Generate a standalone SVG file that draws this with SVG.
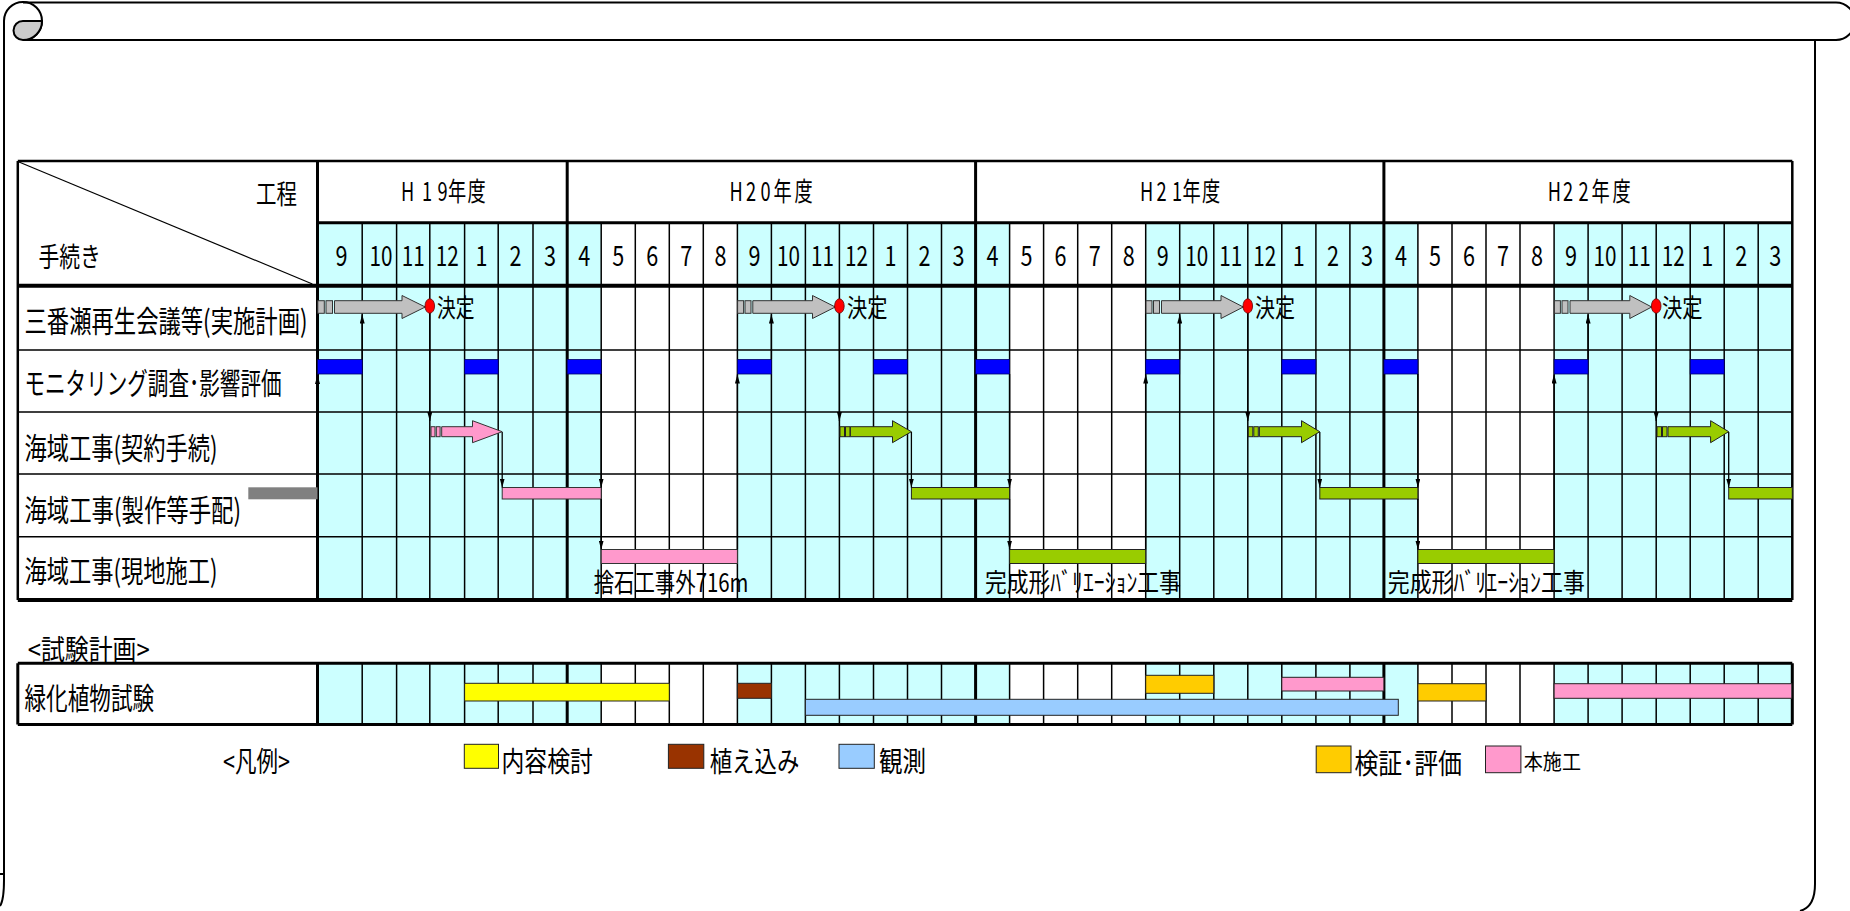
<svg xmlns="http://www.w3.org/2000/svg" width="1850" height="911" viewBox="0 0 1850 911">
<style>
.t{font-family:"Noto Sans CJK JP","Noto Sans",sans-serif;fill:#000}
.m{font-size:28px;text-anchor:middle}
.lab{font-size:30px}
.yr{font-size:26px}
.ml{stroke:#000;stroke-width:1.5;fill:none}
.yl{stroke:#000;stroke-width:3;fill:none}
.hl{stroke:#000;stroke-width:1.5;fill:none}
.cy{fill:#CCFFFF}
.conn{stroke:#000;stroke-width:1.3;fill:none;marker-end:url(#ah)}
.bar{stroke:#222;stroke-width:1}
.blue{fill:#0000FF;stroke:#000066;stroke-width:0.8}
.gray{fill:#C0C0C0;stroke:#333;stroke-width:1}
.pink{fill:#FF99CC;stroke:#333;stroke-width:1}
.green{fill:#99CC00;stroke:#222;stroke-width:1}
.frame{stroke:#000;stroke-width:2;fill:none}
.dot{fill:#FF0000;stroke:#660000;stroke-width:0.8}
</style>
<defs>
<marker id="ah" viewBox="0 0 9 5" refX="9" refY="2.5" markerWidth="9" markerHeight="5" markerUnits="userSpaceOnUse" orient="auto" preserveAspectRatio="none">
<path d="M0,0 L9,2.5 L0,5 Z" fill="#000"/>
</marker>
</defs>

<g id="scroll-frame">
<path class="frame" d="M4,880 L4,21 A19,19 0 1 1 23,40"/>
<path class="frame" d="M23,2.5 H1836 A18.75,18.75 0 0 1 1836,40 H23"/>
<path d="M23,21 H42 A19,19 0 0 1 23,40 A9.5,9.5 0 0 1 23,21 Z" fill="#CCCCCC" stroke="#000" stroke-width="2"/>
<path class="frame" d="M1815,40 V884 Q1815,907 1800,911"/>
<path class="frame" d="M0,874 H4 M4,880 Q4,900 0,906"/>
</g>

<g id="main-table">
<rect x="17.8" y="161" width="1774.5" height="439" fill="#fff"/>
<g id="shade-main">
<rect class="cy" x="317.5" y="222.7" width="283.7" height="377.3"/>
<rect class="cy" x="737.4" y="222.7" width="272.2" height="377.3"/>
<rect class="cy" x="1145.7" y="222.7" width="272.2" height="377.3"/>
<rect class="cy" x="1554.1" y="222.7" width="238.2" height="377.3"/>
</g>
<path class="ml" d="M362.2,222.7V600M396.6,222.7V600M429.8,222.7V600M464.6,222.7V600M498.2,222.7V600M533,222.7V600M601.2,222.7V600M635.3,222.7V600M669.3,222.7V600M703.3,222.7V600M737.4,222.7V600M771.4,222.7V600M805.4,222.7V600M839.4,222.7V600M873.5,222.7V600M907.5,222.7V600M941.5,222.7V600M1009.6,222.7V600M1043.6,222.7V600M1077.7,222.7V600M1111.7,222.7V600M1145.7,222.7V600M1179.7,222.7V600M1213.8,222.7V600M1247.8,222.7V600M1281.8,222.7V600M1315.9,222.7V600M1349.9,222.7V600M1417.9,222.7V600M1452,222.7V600M1486,222.7V600M1520,222.7V600M1554.1,222.7V600M1588.1,222.7V600M1622.1,222.7V600M1656.2,222.7V600M1690.2,222.7V600M1724.2,222.7V600M1758.2,222.7V600"/>
<path class="hl" d="M17.8,350H1792.3M17.8,412H1792.3M17.8,474H1792.3M17.8,536.7H1792.3"/>
<path class="yl" d="M317.5,161V600M567.2,161V600M975.6,161V600M1383.9,161V600"/>
<path class="yl" d="M317.5,222.7H1792.3"/>
<path stroke="#000" stroke-width="4" d="M17.8,285.7H1792.3M17.8,600H1792.3"/>
<path stroke="#000" stroke-width="2.5" fill="none" d="M17.8,161H1792.3M17.8,161V600M1792.3,161V600"/>
<path stroke="#000" stroke-width="1.2" d="M19,162 L312.4,284"/>
</g>

<g id="header-text">
<text class="t" x="256" y="203.5" font-size="27" textLength="41" lengthAdjust="spacingAndGlyphs">工程</text>
<text class="t" x="38.4" y="267" font-size="27" textLength="62.4" lengthAdjust="spacingAndGlyphs">手続き</text>
<text class="t yr" transform="scale(0.7,1)" x="572.86 602.86 625 640 667.86" y="201.5">H19年度</text>
<text class="t yr" transform="scale(0.7,1)" x="1042.29 1065.71 1086.43 1105 1135" y="201.5">H20年度</text>
<text class="t yr" transform="scale(0.7,1)" x="1628.57 1652.14 1674.29 1689.29 1717.14" y="201.5">H21年度</text>
<text class="t yr" transform="scale(0.7,1)" x="2211 2232.86 2255 2273.57 2303.57" y="201.5">H22年度</text>
</g>

<g id="months">
<text class="t m" x="341.5" y="265.5" textLength="12" lengthAdjust="spacingAndGlyphs">9</text>
<text class="t m" x="381" y="265.5" textLength="23" lengthAdjust="spacingAndGlyphs">10</text>
<text class="t m" x="413.2" y="265.5" textLength="23" lengthAdjust="spacingAndGlyphs">11</text>
<text class="t m" x="447.2" y="265.5" textLength="23" lengthAdjust="spacingAndGlyphs">12</text>
<text class="t m" x="481.4" y="265.5" textLength="12" lengthAdjust="spacingAndGlyphs">1</text>
<text class="t m" x="515.6" y="265.5" textLength="12" lengthAdjust="spacingAndGlyphs">2</text>
<text class="t m" x="550.1" y="265.5" textLength="12" lengthAdjust="spacingAndGlyphs">3</text>

<text class="t m" x="584.2" y="265.5" textLength="12" lengthAdjust="spacingAndGlyphs">4</text>
<text class="t m" x="618.3" y="265.5" textLength="12" lengthAdjust="spacingAndGlyphs">5</text>
<text class="t m" x="652.3" y="265.5" textLength="12" lengthAdjust="spacingAndGlyphs">6</text>
<text class="t m" x="686.3" y="265.5" textLength="12" lengthAdjust="spacingAndGlyphs">7</text>
<text class="t m" x="720.4" y="265.5" textLength="12" lengthAdjust="spacingAndGlyphs">8</text>
<text class="t m" x="754.4" y="265.5" textLength="12" lengthAdjust="spacingAndGlyphs">9</text>
<text class="t m" x="788.4" y="265.5" textLength="23" lengthAdjust="spacingAndGlyphs">10</text>
<text class="t m" x="822.4" y="265.5" textLength="23" lengthAdjust="spacingAndGlyphs">11</text>
<text class="t m" x="856.5" y="265.5" textLength="23" lengthAdjust="spacingAndGlyphs">12</text>
<text class="t m" x="890.5" y="265.5" textLength="12" lengthAdjust="spacingAndGlyphs">1</text>
<text class="t m" x="924.5" y="265.5" textLength="12" lengthAdjust="spacingAndGlyphs">2</text>
<text class="t m" x="958.6" y="265.5" textLength="12" lengthAdjust="spacingAndGlyphs">3</text>

<text class="t m" x="992.6" y="265.5" textLength="12" lengthAdjust="spacingAndGlyphs">4</text>
<text class="t m" x="1026.6" y="265.5" textLength="12" lengthAdjust="spacingAndGlyphs">5</text>
<text class="t m" x="1060.6" y="265.5" textLength="12" lengthAdjust="spacingAndGlyphs">6</text>
<text class="t m" x="1094.7" y="265.5" textLength="12" lengthAdjust="spacingAndGlyphs">7</text>
<text class="t m" x="1128.7" y="265.5" textLength="12" lengthAdjust="spacingAndGlyphs">8</text>
<text class="t m" x="1162.7" y="265.5" textLength="12" lengthAdjust="spacingAndGlyphs">9</text>
<text class="t m" x="1196.8" y="265.5" textLength="23" lengthAdjust="spacingAndGlyphs">10</text>
<text class="t m" x="1230.8" y="265.5" textLength="23" lengthAdjust="spacingAndGlyphs">11</text>
<text class="t m" x="1264.8" y="265.5" textLength="23" lengthAdjust="spacingAndGlyphs">12</text>
<text class="t m" x="1298.8" y="265.5" textLength="12" lengthAdjust="spacingAndGlyphs">1</text>
<text class="t m" x="1332.9" y="265.5" textLength="12" lengthAdjust="spacingAndGlyphs">2</text>
<text class="t m" x="1366.9" y="265.5" textLength="12" lengthAdjust="spacingAndGlyphs">3</text>

<text class="t m" x="1400.9" y="265.5" textLength="12" lengthAdjust="spacingAndGlyphs">4</text>
<text class="t m" x="1435" y="265.5" textLength="12" lengthAdjust="spacingAndGlyphs">5</text>
<text class="t m" x="1469" y="265.5" textLength="12" lengthAdjust="spacingAndGlyphs">6</text>
<text class="t m" x="1503" y="265.5" textLength="12" lengthAdjust="spacingAndGlyphs">7</text>
<text class="t m" x="1537.1" y="265.5" textLength="12" lengthAdjust="spacingAndGlyphs">8</text>
<text class="t m" x="1571.1" y="265.5" textLength="12" lengthAdjust="spacingAndGlyphs">9</text>
<text class="t m" x="1605.1" y="265.5" textLength="23" lengthAdjust="spacingAndGlyphs">10</text>
<text class="t m" x="1639.2" y="265.5" textLength="23" lengthAdjust="spacingAndGlyphs">11</text>
<text class="t m" x="1673.2" y="265.5" textLength="23" lengthAdjust="spacingAndGlyphs">12</text>
<text class="t m" x="1707.2" y="265.5" textLength="12" lengthAdjust="spacingAndGlyphs">1</text>
<text class="t m" x="1741.2" y="265.5" textLength="12" lengthAdjust="spacingAndGlyphs">2</text>
<text class="t m" x="1775.3" y="265.5" textLength="12" lengthAdjust="spacingAndGlyphs">3</text>
</g>

<g id="row-labels">
<text class="t lab" x="24.5" y="332" textLength="283" lengthAdjust="spacingAndGlyphs">三番瀬再生会議等(実施計画)</text>
<text class="t lab" x="24.5" y="394" textLength="257" lengthAdjust="spacingAndGlyphs">モニタリング調査･影響評価</text>
<text class="t lab" x="24.5" y="459" textLength="193" lengthAdjust="spacingAndGlyphs">海域工事(契約手続)</text>
<text class="t lab" x="24.5" y="520.5" textLength="216.5" lengthAdjust="spacingAndGlyphs">海域工事(製作等手配)</text>
<text class="t lab" x="24.5" y="582" textLength="193" lengthAdjust="spacingAndGlyphs">海域工事(現地施工)</text>
</g>

<g id="row2-monitoring-bars">
<rect class="blue" x="317.5" y="359.5" width="44.7" height="14.5"/>
<rect class="blue" x="464.6" y="359.5" width="33.6" height="14.5"/>
<rect class="blue" x="567.2" y="359.5" width="34" height="14.5"/>
<rect class="blue" x="737.4" y="359.5" width="34" height="14.5"/>
<rect class="blue" x="873.5" y="359.5" width="34" height="14.5"/>
<rect class="blue" x="975.6" y="359.5" width="34" height="14.5"/>
<rect class="blue" x="1145.7" y="359.5" width="34" height="14.5"/>
<rect class="blue" x="1281.8" y="359.5" width="34.1" height="14.5"/>
<rect class="blue" x="1383.9" y="359.5" width="34" height="14.5"/>
<rect class="blue" x="1554.1" y="359.5" width="34" height="14.5"/>
<rect class="blue" x="1690.2" y="359.5" width="34" height="14.5"/>
</g>

<g id="row4-bars">
<rect x="248.3" y="487.3" width="69.2" height="12" fill="#808080"/>
<rect class="pink" x="502.2" y="487.5" width="99" height="11.5"/>
<rect class="green" x="911.4" y="487.5" width="98.2" height="11.5"/>
<rect class="green" x="1319.8" y="487.5" width="98.1" height="11.5"/>
<rect class="green" x="1728.7" y="487.5" width="63.6" height="11.5"/>
</g>

<g id="row5-bars">
<rect class="pink" x="601.2" y="549.5" width="136.2" height="14"/>
<rect class="green" x="1009.6" y="549.5" width="136.1" height="14"/>
<rect class="green" x="1417.9" y="549.5" width="136.2" height="14"/>
<text class="t" x="593.7" y="592" font-size="26" textLength="154.8" lengthAdjust="spacingAndGlyphs">捨石工事外716m</text>
<text class="t" x="985" y="592" font-size="26" textLength="195.8" lengthAdjust="spacingAndGlyphs">完成形ﾊﾞﾘｴｰｼｮﾝ工事</text>
<text class="t" x="1387.8" y="592" font-size="26" textLength="197" lengthAdjust="spacingAndGlyphs">完成形ﾊﾞﾘｴｰｼｮﾝ工事</text>
</g>

<g id="connectors">
<line class="conn" x1="317.5" y1="487" x2="317.5" y2="375"/>
<line class="conn" x1="362.2" y1="359.5" x2="362.2" y2="314.5"/>
<line class="conn" x1="429.8" y1="313" x2="429.8" y2="421"/>
<line class="conn" x1="502.2" y1="432" x2="502.2" y2="487.5"/>
<line class="conn" x1="601.2" y1="374" x2="601.2" y2="487.5"/>
<line class="conn" x1="601.2" y1="499" x2="601.2" y2="549.5"/>
<line class="conn" x1="737.4" y1="549.5" x2="737.4" y2="374.5"/>

<line class="conn" x1="771.4" y1="359.5" x2="771.4" y2="314.5"/>
<line class="conn" x1="839.4" y1="313" x2="839.4" y2="421"/>
<line class="conn" x1="911.4" y1="432" x2="911.4" y2="487.5"/>
<line class="conn" x1="1009.6" y1="374" x2="1009.6" y2="487.5"/>
<line class="conn" x1="1009.6" y1="499" x2="1009.6" y2="549.5"/>
<line class="conn" x1="1145.7" y1="549.5" x2="1145.7" y2="374.5"/>

<line class="conn" x1="1179.7" y1="359.5" x2="1179.7" y2="314.5"/>
<line class="conn" x1="1247.8" y1="313" x2="1247.8" y2="421"/>
<line class="conn" x1="1319.8" y1="432" x2="1319.8" y2="487.5"/>
<line class="conn" x1="1417.9" y1="374" x2="1417.9" y2="487.5"/>
<line class="conn" x1="1417.9" y1="499" x2="1417.9" y2="549.5"/>
<line class="conn" x1="1554.1" y1="549.5" x2="1554.1" y2="374.5"/>

<line class="conn" x1="1588.1" y1="359.5" x2="1588.1" y2="314.5"/>
<line class="conn" x1="1656.2" y1="313" x2="1656.2" y2="421"/>
<line class="conn" x1="1728.7" y1="432" x2="1728.7" y2="487.5"/>
</g>

<g id="plan-arrows">
<g id="plan-h19">
<rect class="gray" x="317.8" y="300.7" width="6.5" height="12.6"/>
<rect class="gray" x="326" y="300.7" width="6.5" height="12.6"/>
<polygon class="gray" points="334.5,300.7 402,300.7 402,295.5 425.3,307 402,318.5 402,313.3 334.5,313.3"/>
<ellipse class="dot" cx="429.8" cy="306" rx="4.8" ry="7.2"/>
<text class="t" x="437" y="317" font-size="25" textLength="37.5" lengthAdjust="spacingAndGlyphs">決定</text>
</g>
<g id="plan-h20">
<rect class="gray" x="737.6" y="300.7" width="6" height="12.6"/>
<rect class="gray" x="745" y="300.7" width="6" height="12.6"/>
<polygon class="gray" points="752.8,300.7 812.5,300.7 812.5,295.5 835.3,307 812.5,318.5 812.5,313.3 752.8,313.3"/>
<ellipse class="dot" cx="839.4" cy="306" rx="4.8" ry="7.2"/>
<text class="t" x="847" y="317" font-size="25" textLength="40.5" lengthAdjust="spacingAndGlyphs">決定</text>
</g>
<g id="plan-h21">
<rect class="gray" x="1146" y="300.7" width="6" height="12.6"/>
<rect class="gray" x="1153.5" y="300.7" width="6" height="12.6"/>
<polygon class="gray" points="1161.5,300.7 1221,300.7 1221,295.5 1243.3,307 1221,318.5 1221,313.3 1161.5,313.3"/>
<ellipse class="dot" cx="1247.8" cy="306" rx="4.8" ry="7.2"/>
<text class="t" x="1255" y="317" font-size="25" textLength="40" lengthAdjust="spacingAndGlyphs">決定</text>
</g>
<g id="plan-h22">
<rect class="gray" x="1554.4" y="300.7" width="6" height="12.6"/>
<rect class="gray" x="1562" y="300.7" width="6" height="12.6"/>
<polygon class="gray" points="1570,300.7 1629.8,300.7 1629.8,295.5 1651.7,307 1629.8,318.5 1629.8,313.3 1570,313.3"/>
<ellipse class="dot" cx="1656.2" cy="306" rx="4.8" ry="7.2"/>
<text class="t" x="1662" y="317" font-size="25" textLength="40.6" lengthAdjust="spacingAndGlyphs">決定</text>
</g>
</g>

<g id="contract-arrows">
<g id="contract-h19">
<rect class="pink" x="431" y="426.7" width="4" height="10"/>
<rect class="pink" x="436.3" y="426.7" width="3.8" height="10"/>
<polygon class="pink" points="441.7,426.7 472.5,426.7 472.5,420.7 502.2,431.7 472.5,442.7 472.5,436.7 441.7,436.7"/>
</g>
<g id="contract-h20">
<rect class="green" x="840" y="426.7" width="4.5" height="10"/>
<rect class="green" x="845.5" y="426.7" width="4.5" height="10"/>
<polygon class="green" points="850.4,426.7 892.5,426.7 892.5,420.7 911.4,431.7 892.5,442.7 892.5,436.7 850.4,436.7"/>
</g>
<g id="contract-h21">
<rect class="green" x="1248.3" y="426.7" width="4.5" height="10"/>
<rect class="green" x="1253.8" y="426.7" width="4.5" height="10"/>
<polygon class="green" points="1259.4,426.7 1301.5,426.7 1301.5,420.7 1319.8,431.7 1301.5,442.7 1301.5,436.7 1259.4,436.7"/>
</g>
<g id="contract-h22">
<rect class="green" x="1657" y="426.7" width="4.5" height="10"/>
<rect class="green" x="1662.5" y="426.7" width="4.5" height="10"/>
<polygon class="green" points="1668,426.7 1710.6,426.7 1710.6,420.7 1728.7,431.7 1710.6,442.7 1710.6,436.7 1668,436.7"/>
</g>
</g>

<g id="test-plan">
<text class="t" x="27.7" y="660" font-size="28" textLength="122" lengthAdjust="spacingAndGlyphs">&lt;試験計画&gt;</text>
<rect x="17.8" y="663.3" width="1774.5" height="61.2" fill="#fff"/>
<rect class="cy" x="317.5" y="663.3" width="283.7" height="61.2"/>
<rect class="cy" x="737.4" y="663.3" width="272.2" height="61.2"/>
<rect class="cy" x="1145.7" y="663.3" width="272.2" height="61.2"/>
<rect class="cy" x="1554.1" y="663.3" width="238.2" height="61.2"/>
<path class="ml" d="M362.2,663.3V724.5M396.6,663.3V724.5M429.8,663.3V724.5M464.6,663.3V724.5M498.2,663.3V724.5M533,663.3V724.5M601.2,663.3V724.5M635.3,663.3V724.5M669.3,663.3V724.5M703.3,663.3V724.5M737.4,663.3V724.5M771.4,663.3V724.5M805.4,663.3V724.5M839.4,663.3V724.5M873.5,663.3V724.5M907.5,663.3V724.5M941.5,663.3V724.5M1009.6,663.3V724.5M1043.6,663.3V724.5M1077.7,663.3V724.5M1111.7,663.3V724.5M1145.7,663.3V724.5M1179.7,663.3V724.5M1213.8,663.3V724.5M1247.8,663.3V724.5M1281.8,663.3V724.5M1315.9,663.3V724.5M1349.9,663.3V724.5M1417.9,663.3V724.5M1452,663.3V724.5M1486,663.3V724.5M1520,663.3V724.5M1554.1,663.3V724.5M1588.1,663.3V724.5M1622.1,663.3V724.5M1656.2,663.3V724.5M1690.2,663.3V724.5M1724.2,663.3V724.5M1758.2,663.3V724.5"/>
<path class="yl" d="M317.5,663.3V724.5M567.2,663.3V724.5M975.6,663.3V724.5M1383.9,663.3V724.5"/>
<path stroke="#000" stroke-width="3" fill="none" d="M17.8,663.3H1792.3M17.8,724.5H1792.3M17.8,663.3V724.5M1792.3,663.3V724.5"/>
<text class="t" x="24.5" y="709" font-size="30" textLength="129.7" lengthAdjust="spacingAndGlyphs">緑化植物試験</text>
<rect class="bar" x="464.6" y="683.3" width="204.7" height="17.7" fill="#FFFF00"/>
<rect class="bar" x="737.4" y="683.3" width="34" height="15" fill="#993300"/>
<rect class="bar" x="805.4" y="699.3" width="592.9" height="16" fill="#99CCFF"/>
<rect class="bar" x="1145.7" y="675.3" width="68.1" height="18" fill="#FFCC00"/>
<rect class="bar" x="1281.8" y="677.3" width="102.1" height="13.7" fill="#FF99CC"/>
<rect class="bar" x="1417.9" y="683.7" width="68.1" height="17.3" fill="#FFCC00"/>
<rect class="bar" x="1554.1" y="683.7" width="237.7" height="14.6" fill="#FF99CC"/>
</g>

<g id="legend">
<text class="t" x="223" y="772" font-size="28" textLength="67" lengthAdjust="spacingAndGlyphs">&lt;凡例&gt;</text>
<rect class="bar" x="464.3" y="744.3" width="34.2" height="24" fill="#FFFF00"/>
<text class="t" x="501.5" y="772" font-size="28" textLength="91.5" lengthAdjust="spacingAndGlyphs">内容検討</text>
<rect class="bar" x="668.4" y="744.3" width="35.4" height="24" fill="#993300"/>
<text class="t" x="709.7" y="772" font-size="28" textLength="89.7" lengthAdjust="spacingAndGlyphs">植え込み</text>
<rect class="bar" x="839" y="744.3" width="35.3" height="24" fill="#99CCFF"/>
<text class="t" x="879" y="772" font-size="28" textLength="47" lengthAdjust="spacingAndGlyphs">観測</text>
<rect class="bar" x="1316.2" y="746" width="34.8" height="26.7" fill="#FFCC00"/>
<text class="t" x="1354.5" y="774" font-size="28" textLength="107.4" lengthAdjust="spacingAndGlyphs">検証･評価</text>
<rect class="bar" x="1485.5" y="746" width="35.4" height="26.7" fill="#FF99CC"/>
<text class="t" x="1523.8" y="768.5" font-size="21" textLength="57.2" lengthAdjust="spacingAndGlyphs">本施工</text>
</g>
</svg>
